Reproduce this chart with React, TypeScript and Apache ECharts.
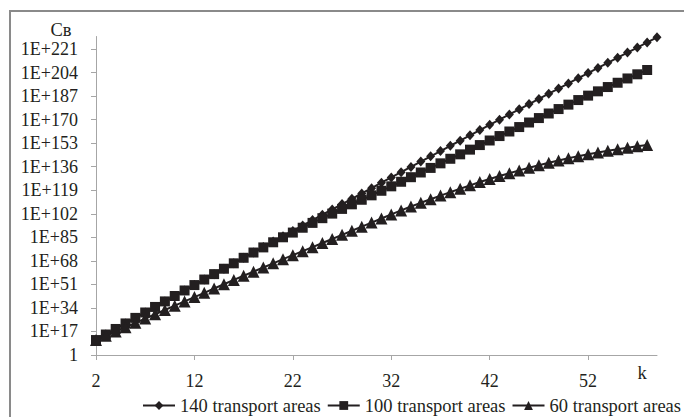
import React, { useEffect, useRef } from 'react';
import * as echarts from 'echarts';

// k values (x-axis categories)
const categories = [
  '2', '3', '4', '5', '6', '7', '8', '9', '10', '11', '12', '13', '14', '15', '16', '17', '18', '19', '20',
  '21', '22', '23', '24', '25', '26', '27', '28', '29', '30', '31', '32', '33', '34', '35', '36', '37', '38', '39',
  '40', '41', '42', '43', '44', '45', '46', '47', '48', '49', '50', '51', '52', '53', '54', '55', '56', '57', '58', '59',
];

// log10(Cв), k = 2..59
const log140 = [
  10.8, 14.8, 18.8, 22.8, 26.8, 30.7, 34.7, 38.7, 42.6, 46.6, 50.5, 54.5, 58.4, 62.3, 66.2, 70.2, 74.1, 78.0, 81.9,
  85.8, 89.6, 93.5, 97.4, 101.3, 105.1, 109.0, 112.8, 116.7, 120.5, 124.4, 128.2, 132.0, 135.8, 139.7, 143.5, 147.3,
  151.1, 154.8, 158.6, 162.4, 166.2, 169.9, 173.7, 177.4, 181.2, 184.9, 188.7, 192.4, 196.1, 199.9, 203.6, 207.3,
  211.0, 214.7, 218.4, 222.0, 225.7, 229.4,
];

// k = 2..58
const log100 = [
  10.8, 14.8, 18.8, 22.8, 26.8, 30.7, 34.7, 38.7, 42.6, 46.6, 50.5, 54.5, 58.4, 62.3, 66.2, 70.2, 74.0, 77.7, 81.4,
  85.0, 88.4, 91.9, 95.4, 98.8, 102.1, 105.5, 108.8, 112.1, 115.3, 118.6, 121.8, 125.1, 128.4, 131.8, 135.1, 138.4,
  141.7, 144.9, 148.3, 151.6, 154.9, 158.1, 161.4, 164.6, 167.9, 171.1, 174.4, 177.6, 180.8, 184.1, 187.3, 190.4,
  193.5, 196.6, 199.7, 202.7, 205.8,
];

// k = 2..58
const log60 = [
  10.8, 13.9, 17.0, 20.1, 23.2, 26.3, 29.4, 32.5, 35.6, 38.7, 41.8, 44.9, 48.0, 51.1, 54.2, 57.2, 60.2, 63.2, 66.2,
  69.2, 72.1, 75.0, 77.9, 80.9, 83.8, 86.8, 89.7, 92.7, 95.6, 98.6, 101.5, 104.4, 107.2, 109.9, 112.5, 115.1,
  117.6, 120.1, 122.5, 124.9, 127.1, 129.3, 131.3, 133.3, 135.2, 137.0, 138.8, 140.5, 142.1, 143.6, 145.0, 146.3,
  147.5, 148.6, 149.7, 150.7, 151.7,
];

// y tick exponents: 1, 1E+17, ... 1E+221
const yTickExponents = [0, 17, 34, 51, 68, 85, 102, 119, 136, 153, 170, 187, 204, 221];

const seriesNames = ['140 transport areas', '100 transport areas', '60 transport areas'];

const INK = '#231f20';
const AXIS = '#a6a6a6';
const FONT = 'Liberation Serif';

export default function App() {
  const ref = useRef<HTMLDivElement>(null);

  useEffect(() => {
    const chart = echarts.init(ref.current!, null, { renderer: 'svg' });
    const mkSeries = (name: string, data: number[], symbol: string, size: number | number[]) => ({
      name,
      type: 'line',
      data,
      symbol,
      symbolSize: size,
      showSymbol: true,
      showAllSymbol: true,
      lineStyle: { color: INK, width: 2 },
      itemStyle: { color: INK, borderWidth: 0 },
      silent: true,
    });
    chart.setOption({
      animation: false,
      backgroundColor: '#ffffff',
      grid: {
        left: 96,
        right: 27,
        top: 36.5,
        bottom: 62,
        containLabel: false,
        outerBoundsMode: 'none',
      },
      legend: {
        data: seriesNames,
        left: 137,
        top: 391,
        width: 620,
        itemWidth: 32,
        itemHeight: 11,
        itemGap: 6,
        textStyle: { fontFamily: FONT, fontSize: 18.5, color: INK },
        selectedMode: false,
      },
      xAxis: {
        type: 'category',
        data: categories,
        boundaryGap: false,
        axisLine: { show: true, lineStyle: { color: AXIS, width: 1 } },
        axisTick: { show: true, interval: 9, length: 5, lineStyle: { color: AXIS } },
        axisLabel: {
          interval: 9,
          margin: 17,
          fontFamily: FONT,
          fontSize: 18,
          color: INK,
        },
        splitLine: { show: false },
      },
      yAxis: {
        type: 'value',
        min: 0,
        max: 230,
        axisLine: { show: true, lineStyle: { color: AXIS, width: 1 } },
        axisTick: { show: true, length: 5, customValues: yTickExponents, lineStyle: { color: AXIS } },
        axisLabel: {
          customValues: yTickExponents,
          margin: 18,
          fontFamily: FONT,
          fontSize: 18,
          color: INK,
          formatter: (v: number) => (v === 0 ? '1' : '1E+' + v),
        },
        splitLine: { show: false },
      },
      graphic: [
        {
          type: 'rect',
          shape: { x: 10, y: 11, width: 720, height: 460 },
          style: { fill: 'none', stroke: '#8a8a8a', lineWidth: 2 },
          silent: true,
        },
        {
          type: 'text',
          x: 61,
          y: 30,
          style: {
            text: 'Cв',
            fontFamily: FONT,
            fontSize: 18.5,
            fill: INK,
            textAlign: 'center',
            textVerticalAlign: 'middle',
          },
          silent: true,
        },
        {
          type: 'text',
          x: 642,
          y: 373,
          style: {
            text: 'k',
            fontFamily: FONT,
            fontSize: 18.5,
            fill: INK,
            textAlign: 'center',
            textVerticalAlign: 'middle',
          },
          silent: true,
        },
      ],
      series: [
        mkSeries(seriesNames[0], log140, 'diamond', [9, 10]),
        mkSeries(seriesNames[1], log100, 'rect', 10),
        mkSeries(seriesNames[2], log60, 'triangle', 12),
      ],
    });
    return () => chart.dispose();
  }, []);

  return (
    <div
      ref={ref}
      style={{ position: 'fixed', left: 0, top: 0, width: 684, height: 417, background: '#ffffff' }}
    />
  );
}
